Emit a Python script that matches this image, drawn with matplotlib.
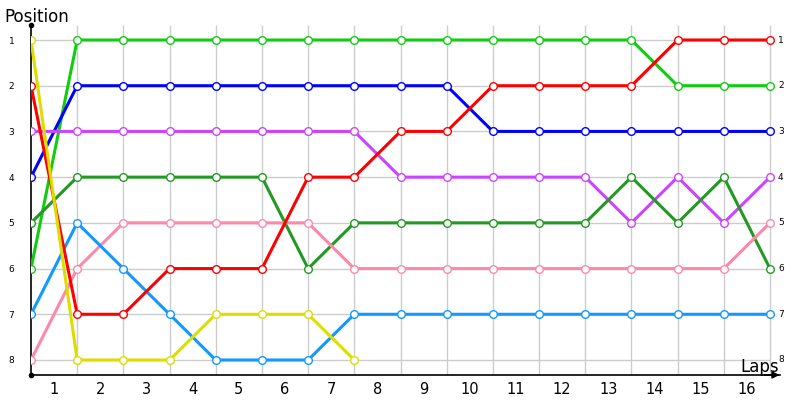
import matplotlib
matplotlib.use("Agg")
import matplotlib.pyplot as plt

# lap chart data: position of each driver after each lap (index 0 = start)
laps = list(range(17))
lap_labels = [str(i) for i in range(1, 17)]
positions = list(range(1, 9))

lime = [6, 1, 1, 1, 1, 1, 1, 1, 1, 1, 1, 1, 1, 1, 2, 2, 2]
blue = [4, 2, 2, 2, 2, 2, 2, 2, 2, 2, 3, 3, 3, 3, 3, 3, 3]
purple = [3, 3, 3, 3, 3, 3, 3, 3, 4, 4, 4, 4, 4, 5, 4, 5, 4]
dgreen = [5, 4, 4, 4, 4, 4, 6, 5, 5, 5, 5, 5, 5, 4, 5, 4, 6]
pink = [8, 6, 5, 5, 5, 5, 5, 6, 6, 6, 6, 6, 6, 6, 6, 6, 5]
lblue = [7, 5, 6, 7, 8, 8, 8, 7, 7, 7, 7, 7, 7, 7, 7, 7, 7]
red = [2, 7, 7, 6, 6, 6, 4, 4, 3, 3, 2, 2, 2, 2, 1, 1, 1]
yellow = [1, 8, 8, 8, 7, 7, 7, 8]

series = [
    (lime, "#11cc11"),
    (blue, "#0000ff"),
    (purple, "#cc44ff"),
    (dgreen, "#229922"),
    (pink, "#ff88aa"),
    (lblue, "#1199ff"),
    (red, "#ff0000"),
    (yellow, "#dddd00"),
]

fig = plt.figure(figsize=(8, 4), dpi=100)
ax = fig.add_axes([31 / 800, 25 / 400, 749 / 800, 350 / 400])

xmax = 16 + 10 / 46.2
ybot = 8 + 15 / 45.7
ytop = 1 - 15 / 45.7
ax.set_xlim(0, xmax)
ax.set_ylim(ybot, ytop)

# grid
ax.hlines(positions, 0, 16, color="#cccccc", lw=1, zorder=1)
ax.vlines(laps[1:], ybot, ytop, color="#cccccc", lw=1, zorder=1)

for vals, col in series:
    ax.plot(laps[:len(vals)], vals, color=col, lw=2.2, marker="o", ms=5.5,
            mfc="white", mec=col, mew=1.0, zorder=3)

for s in ["top", "right"]:
    ax.spines[s].set_visible(False)
ax.spines["left"].set_linewidth(1.2)
ax.spines["bottom"].set_linewidth(1.2)

ax.set_yticks(positions)
ax.set_yticklabels([str(p) for p in positions], fontsize=6.5)
ax.tick_params(axis="y", length=0, pad=12)
ax.set_xticks([i + 0.5 for i in range(16)])
ax.set_xticklabels(lap_labels, fontsize=10.5)
ax.tick_params(axis="x", length=0, pad=5)

# right-hand position labels
for p in positions:
    ax.text(16 + 8 / 46.2, p, str(p), fontsize=6.5, va="center", ha="left")

# axis ends
ax.plot([0], [ytop], "ko", ms=3, clip_on=False, zorder=5)
ax.plot([0], [ybot], "ko", ms=3, clip_on=False, zorder=5)
ax.annotate("", xy=(xmax + 0.05, ybot), xytext=(xmax - 0.4, ybot),
            arrowprops=dict(arrowstyle="-|>", color="black", lw=1.2),
            annotation_clip=False)

fig.text(4 / 800, 1 - 17 / 400, "Position", fontsize=12, va="center", ha="left")
fig.text(779 / 800, 1 - 367 / 400, "Laps", fontsize=12, va="center", ha="right")

fig.savefig("out.png", dpi=100)
